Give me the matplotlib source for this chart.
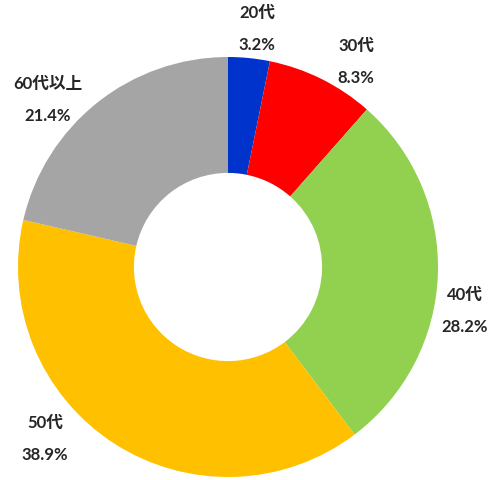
import matplotlib.pyplot as plt

plt.rcParams['font.family'] = ['Lato', 'Noto Sans CJK JP', 'DejaVu Sans']

ages = ['20代', '30代', '40代', '50代', '60代以上']
shares = [3.2, 8.3, 28.2, 38.9, 21.4]
colors = ['#0033CC', '#FF0000', '#92D050', '#FFC000', '#A5A5A5']

# label anchors in pixel space (y measured from top)
label_xy = [(257, 29), (356, 62), (465, 311), (45, 439), (48, 100)]

W, H = 490, 481
fig = plt.figure(figsize=(W / 100, H / 100), dpi=100)
ax = fig.add_axes([0, 0, 1, 1])

cx, cy, r = 228, H - 268, 210
ax.pie(shares, colors=colors, startangle=90, counterclock=False,
       center=(cx, cy), radius=r, frame=True,
       wedgeprops=dict(width=r * 0.552, linewidth=0))

for name, val, (x, y) in zip(ages, shares, label_xy):
    ax.text(x, H - y, name + '\n' + '%.1f%%' % val, ha='center', va='center',
            fontsize=12, fontweight='bold', color='#262626', linespacing=2.2)

ax.set_xlim(0, W)
ax.set_ylim(0, H)
ax.axis('off')

plt.savefig('out.png', dpi=100)
plt.close()
